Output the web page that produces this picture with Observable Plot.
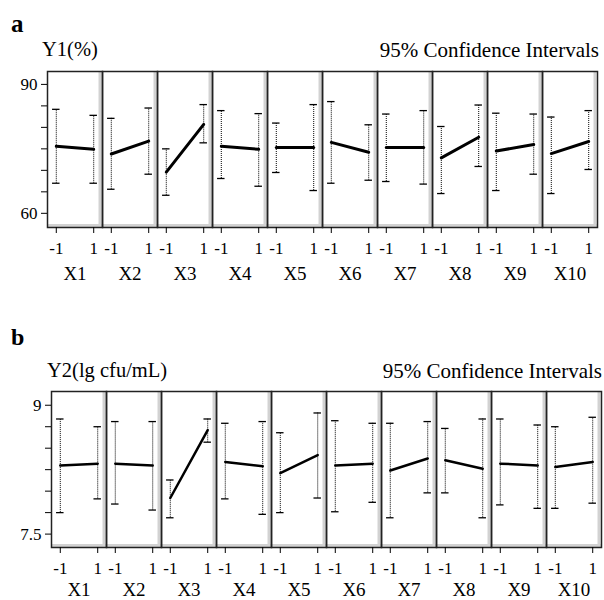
<!DOCTYPE html>
<html>
<head>
<meta charset="utf-8">
<script src="https://cdn.jsdelivr.net/npm/d3@7"></script>
<script src="https://cdn.jsdelivr.net/npm/@observablehq/plot@0.6"></script>
<style>
  html, body { margin: 0; padding: 0; background: #fff; }
  #wrap { position: relative; width: 604px; height: 600px; overflow: hidden; font-family: "Liberation Serif", "DejaVu Serif", serif; }
  #wrap > svg, #wrap > div { position: absolute; left: 0; }
  #overlay { top: 0; pointer-events: none; }
</style>
</head>
<body>
<div id="wrap"></div>
<script>
// ---- data ----
const factors = ["X1", "X2", "X3", "X4", "X5", "X6", "X7", "X8", "X9", "X10"];
const levels = [-1, 1];

// Panel a: Y1(%)
const y1LowMean  = [75.6, 73.8, 69.6, 75.6, 75.3, 76.5, 75.3, 72.9, 74.5, 73.9];
const y1HighMean = [74.9, 76.8, 80.7, 74.9, 75.3, 74.2, 75.3, 77.7, 76.0, 76.7];
const y1LowLo    = [67.0, 65.6, 64.2, 68.1, 69.5, 67.0, 67.4, 64.6, 65.3, 64.6];
const y1LowHi    = [84.2, 82.1, 75.0, 83.9, 81.0, 86.0, 83.1, 80.2, 83.3, 82.4];
const y1HighLo   = [67.0, 69.1, 76.4, 66.3, 65.3, 67.7, 66.8, 70.9, 69.1, 70.2];
const y1HighHi   = [82.8, 84.5, 85.3, 83.2, 85.3, 80.6, 83.9, 85.2, 83.1, 83.9];
const y1Ticks = [60, 90];
const y1MinorTicks = [65, 70, 75, 80, 85];

// Panel b: Y2(lg cfu/mL)
const y2LowMean  = [8.30, 8.32, 7.92, 8.34, 8.21, 8.30, 8.24, 8.36, 8.32, 8.28];
const y2HighMean = [8.32, 8.30, 8.71, 8.29, 8.42, 8.32, 8.38, 8.26, 8.30, 8.34];
const y2LowLo    = [7.75, 7.85, 7.69, 7.91, 7.75, 7.76, 7.69, 7.98, 7.84, 7.80];
const y2LowHi    = [8.84, 8.81, 8.13, 8.79, 8.68, 8.82, 8.79, 8.73, 8.84, 8.75];
const y2HighLo   = [7.91, 7.78, 8.57, 7.73, 7.92, 7.87, 7.98, 7.69, 7.80, 7.86];
const y2HighHi   = [8.75, 8.81, 8.84, 8.81, 8.91, 8.79, 8.81, 8.84, 8.77, 8.86];
const y2Ticks = [7.5, 9];
const y2MinorTicks = [7.75, 8, 8.25, 8.5, 8.75];

function buildRows(lowMean, highMean, lowLo, lowHi, highLo, highHi) {
  const rows = [];
  factors.forEach((f, i) => {
    rows.push({f, level: levels[0], mean: lowMean[i], lo: lowLo[i], hi: lowHi[i]});
    rows.push({f, level: levels[1], mean: highMean[i], lo: highLo[i], hi: highHi[i]});
  });
  return rows;
}

const FONT = "Liberation Serif";

function panel({rows, yDomain, major, minor, height, marginLeft, marginRight, marginBottom, lineWidth, fxPad}) {
  const xDom = [-1.47, 1.47];
  return Plot.plot({
    width: 604,
    height,
    marginTop: 11,
    marginLeft,
    marginRight,
    marginBottom,
    style: {fontFamily: FONT, fontSize: "17px", color: "#000", background: "transparent", overflow: "visible"},
    fx: {domain: factors, padding: 0, axis: null},
    x: {domain: xDom, axis: null},
    y: {domain: yDomain, axis: null},
    marks: [
      // light gray bevel strips at the right and bottom of each facet
      Plot.ruleX(factors, {fx: d => d, x: xDom[1], dx: -2.5, stroke: "#d2d2d2", strokeWidth: 3}),
      Plot.ruleY(factors, {fx: d => d, y: yDomain[0], dy: -2, stroke: "#d2d2d2", strokeWidth: 3}),
      Plot.frame({stroke: "#222", strokeWidth: 1.5}),
      // confidence intervals (dotted) with caps
      Plot.ruleX(rows, {fx: "f", x: "level", y1: "lo", y2: "hi", stroke: "#000", strokeWidth: 1, strokeDasharray: "1,1"}),
      Plot.ruleY(rows, {fx: "f", y: "hi", x1: d => d.level - 0.2, x2: d => d.level + 0.2, stroke: "#000", strokeWidth: 1.3}),
      Plot.ruleY(rows, {fx: "f", y: "lo", x1: d => d.level - 0.2, x2: d => d.level + 0.2, stroke: "#000", strokeWidth: 1.3}),
      // main effect line
      Plot.line(rows, {fx: "f", x: "level", y: "mean", z: "f", stroke: "#000", strokeWidth: lineWidth}),
      // axes
      Plot.axisY({ticks: major, tickSize: 6, tickPadding: 4, tickFormat: d => String(d), label: null, fontSize: 17, stroke: "#000"}),
      Plot.axisY({ticks: minor, tickSize: 6, tickFormat: () => "", label: null, stroke: "#000"}),
      Plot.axisX({ticks: levels, tickSize: 6, tickPadding: 8, tickFormat: d => String(d), label: null, fontSize: 17, stroke: "#000"}),
      Plot.axisFx({anchor: "bottom", tickSize: 0, tickPadding: fxPad, label: null, fontSize: 19})
    ]
  });
}

const wrap = document.getElementById("wrap");

const rowsA = buildRows(y1LowMean, y1HighMean, y1LowLo, y1LowHi, y1HighLo, y1HighHi);
const rowsB = buildRows(y2LowMean, y2HighMean, y2LowLo, y2LowHi, y2HighLo, y2HighHi);

const plotA = panel({rows: rowsA, yDomain: [56.7, 93], major: y1Ticks, minor: y1MinorTicks,
  height: 230, marginLeft: 43, marginRight: 4, marginBottom: 63, lineWidth: 3, fxPad: 39});
plotA.style.top = "60px";
wrap.appendChild(plotA);

const plotB = panel({rows: rowsB, yDomain: [7.344, 9.16], major: y2Ticks, minor: y2MinorTicks,
  height: 220, marginLeft: 48, marginRight: 1, marginBottom: 53, lineWidth: 2.5, fxPad: 35});
plotB.style.top = "380px";
wrap.appendChild(plotB);

// titles / labels overlay
const titles = [
  {text: "a", x: 11, y: 32, size: 25, weight: "bold", anchor: "start"},
  {text: "Y1(%)", x: 42, y: 56, size: 20.5, weight: "normal", anchor: "start"},
  {text: "95% Confidence Intervals", x: 599, y: 57, size: 21, weight: "normal", anchor: "end"},
  {text: "b", x: 11, y: 345, size: 24, weight: "bold", anchor: "start"},
  {text: "Y2(lg cfu/mL)", x: 47, y: 377, size: 20.5, weight: "normal", anchor: "start"},
  {text: "95% Confidence Intervals", x: 602, y: 378, size: 21, weight: "normal", anchor: "end"}
];
const overlay = d3.create("svg").attr("id", "overlay").attr("width", 604).attr("height", 600);
overlay.selectAll("text").data(titles).join("text")
  .attr("x", d => d.x).attr("y", d => d.y)
  .attr("text-anchor", d => d.anchor)
  .attr("font-family", FONT)
  .attr("font-size", d => d.size)
  .attr("font-weight", d => d.weight)
  .attr("fill", "#000")
  .text(d => d.text);
wrap.appendChild(overlay.node());
</script>
</body>
</html>
